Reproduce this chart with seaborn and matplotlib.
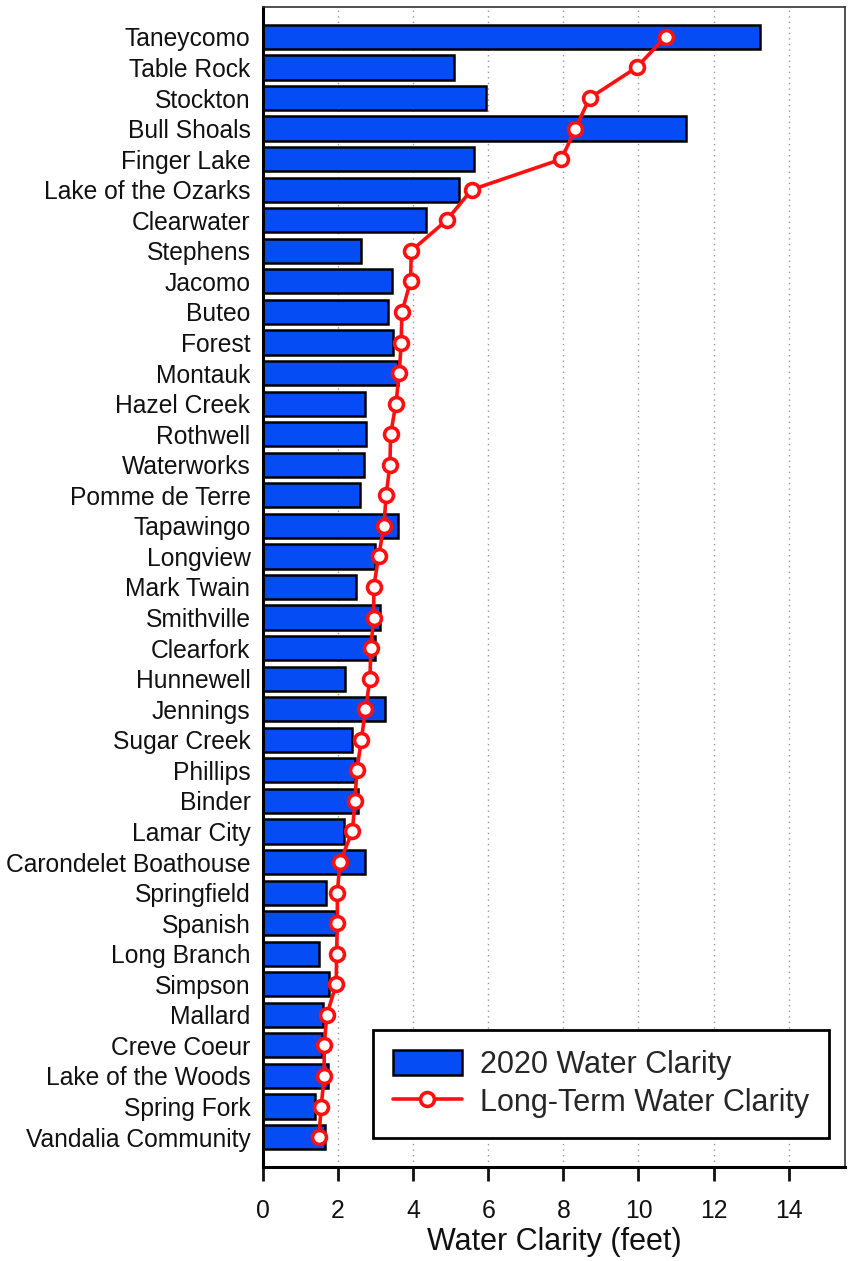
import numpy as np
import pandas as pd
import matplotlib
matplotlib.use("Agg")
import matplotlib.pyplot as plt
import seaborn as sns
from matplotlib.patches import Patch
from matplotlib.lines import Line2D

lakes = [
    "Taneycomo", "Table Rock", "Stockton", "Bull Shoals", "Finger Lake",
    "Lake of the Ozarks", "Clearwater", "Stephens", "Jacomo", "Buteo",
    "Forest", "Montauk", "Hazel Creek", "Rothwell", "Waterworks",
    "Pomme de Terre", "Tapawingo", "Longview", "Mark Twain", "Smithville",
    "Clearfork", "Hunnewell", "Jennings", "Sugar Creek", "Phillips",
    "Binder", "Lamar City", "Carondelet Boathouse", "Springfield", "Spanish",
    "Long Branch", "Simpson", "Mallard", "Creve Coeur", "Lake of the Woods",
    "Spring Fork", "Vandalia Community",
]

clarity_2020 = [
    13.24, 5.10, 5.95, 11.27, 5.63,
    5.22, 4.34, 2.62, 3.43, 3.32,
    3.47, 3.59, 2.73, 2.75, 2.70,
    2.59, 3.59, 2.99, 2.49, 3.12,
    2.99, 2.18, 3.26, 2.38, 2.46,
    2.54, 2.17, 2.71, 1.67, 1.95,
    1.50, 1.77, 1.59, 1.57, 1.72,
    1.39, 1.66,
]

clarity_long_term = [
    10.72, 9.95, 8.70, 8.32, 7.95,
    5.56, 4.89, 3.95, 3.93, 3.70,
    3.68, 3.63, 3.54, 3.40, 3.38,
    3.28, 3.22, 3.08, 2.95, 2.95,
    2.87, 2.85, 2.73, 2.62, 2.50,
    2.45, 2.38, 2.05, 1.98, 1.98,
    1.96, 1.95, 1.70, 1.63, 1.63,
    1.55, 1.49,
]

x_ticks = [0, 2, 4, 6, 8, 10, 12, 14]

df = pd.DataFrame({"lake": lakes, "c2020": clarity_2020, "lt": clarity_long_term})

sns.set_theme(style="white")
plt.rcParams["font.family"] = ["Liberation Sans", "DejaVu Sans"]

bar_blue = "#064CF4"
line_red = "#FF1010"

fig = plt.figure(figsize=(8.5, 12.61), dpi=100)
ax = fig.add_axes([0.3094, 0.0745, 0.6847, 0.9200])

sns.barplot(data=df, x="c2020", y="lake", order=lakes, orient="h",
            color=bar_blue, saturation=1, width=0.79,
            edgecolor="black", linewidth=1.8, ax=ax, zorder=2)

pos = np.arange(len(lakes))
ax.plot(df["lt"], pos, color=line_red, linewidth=2.6, marker="o",
        markersize=10, markerfacecolor="white", markeredgecolor=line_red,
        markeredgewidth=2.6, zorder=4)

ax.set_xlim(0, 15.5)
ax.set_ylim(len(lakes) - 1 + 0.98, -0.98)
ax.set_xticks(x_ticks)
ax.set_xticklabels([str(t) for t in x_ticks])

for t in x_ticks[1:]:
    ax.axvline(t, color="#999999", linestyle=(0, (1, 3)), linewidth=1.0, zorder=0)

ax.set_ylabel("")
ax.set_xlabel("Water Clarity (feet)", fontsize=22, labelpad=3, color="#111111")

ax.tick_params(axis="x", direction="out", length=10, width=2, pad=13,
               labelsize=17.8, bottom=True, colors="#111111")
ax.tick_params(axis="y", length=0, pad=9, labelsize=17.7, left=False,
               colors="#111111")

for side in ["left", "bottom"]:
    ax.spines[side].set_linewidth(2.2)
    ax.spines[side].set_color("black")
for side in ["top", "right"]:
    ax.spines[side].set_linewidth(1.2)
    ax.spines[side].set_color("#333333")

handles = [
    Patch(facecolor=bar_blue, edgecolor="black", linewidth=1.8,
          label="2020 Water Clarity"),
    Line2D([0], [0], color=line_red, linewidth=2.6, marker="o", markersize=10,
           markerfacecolor="white", markeredgecolor=line_red,
           markeredgewidth=2.6, label="Long-Term Water Clarity"),
]
leg = ax.legend(handles=handles, loc="lower right",
                bbox_to_anchor=(0.9725, 0.025), fontsize=22,
                frameon=True, fancybox=False, edgecolor="black",
                framealpha=1, handlelength=2.26, handleheight=0.9,
                handletextpad=0.58, borderpad=0.66, labelspacing=0.25,
                borderaxespad=0)
leg.get_frame().set_linewidth(2.0)

fig.savefig("out.png", dpi=100)
